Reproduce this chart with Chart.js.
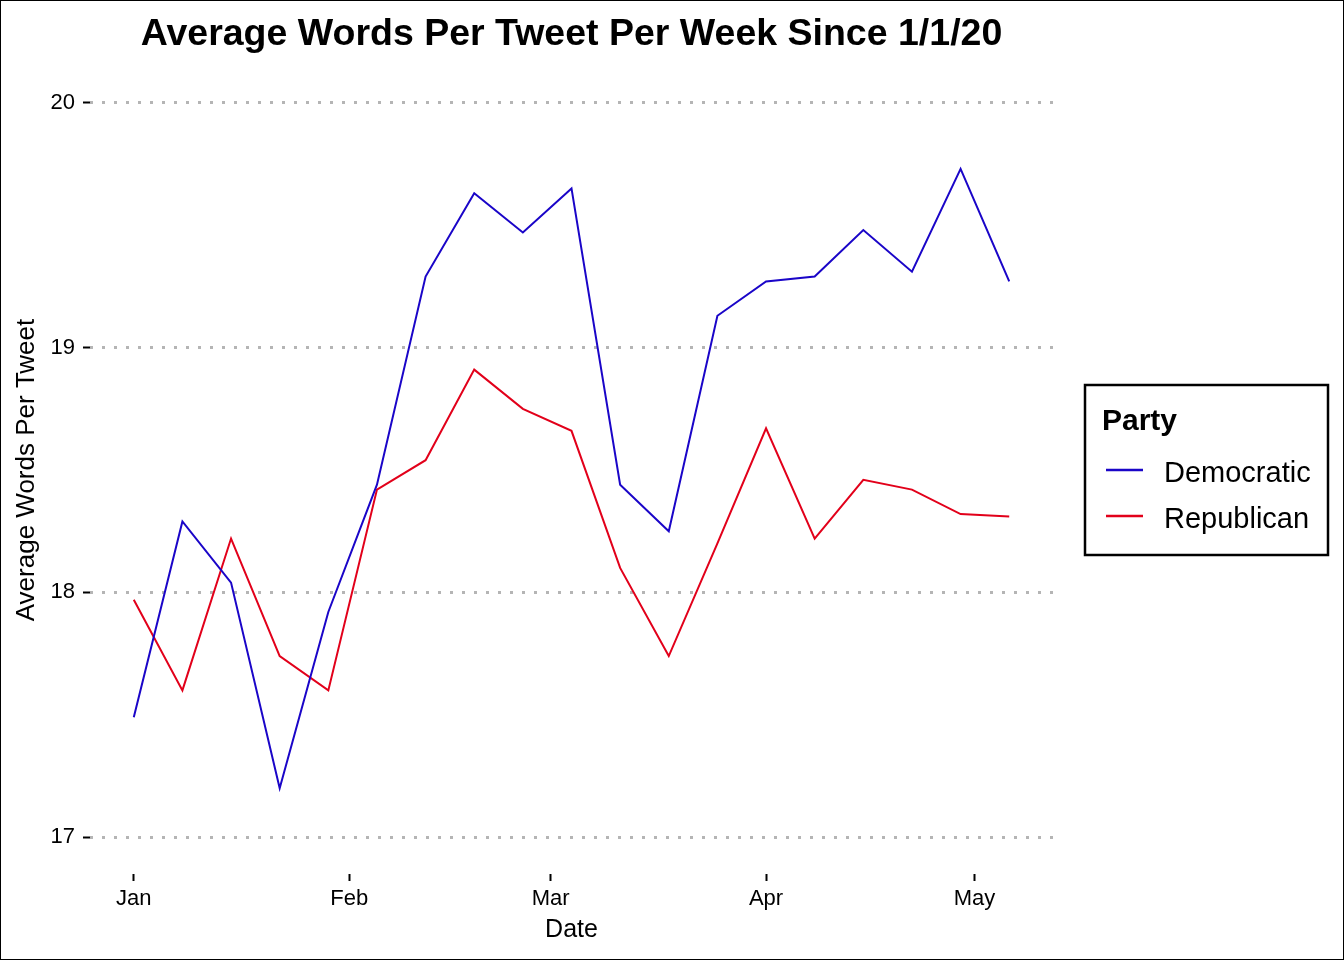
<!DOCTYPE html>
<html>
<head>
<meta charset="utf-8">
<script src="https://cdn.jsdelivr.net/npm/chart.js@4"></script>
<style>
  body { margin: 0; background: #fff; }
  canvas { display: block; }
</style>
</head>
<body>
<canvas id="chart" width="1344" height="960"></canvas>
<script>
// weekly averages since 1/1/20
const weeks = ['2020-01-01', '2020-01-08', '2020-01-15', '2020-01-22', '2020-01-29',
  '2020-02-05', '2020-02-12', '2020-02-19', '2020-02-26', '2020-03-04', '2020-03-11',
  '2020-03-18', '2020-03-25', '2020-04-01', '2020-04-08', '2020-04-15', '2020-04-22',
  '2020-04-29', '2020-05-06'];
const democratic = [17.49, 18.29, 18.04, 17.20, 17.92, 18.44, 19.29, 19.63, 19.47, 19.65,
  18.44, 18.25, 19.13, 19.27, 19.29, 19.48, 19.31, 19.73, 19.27];
const republican = [17.97, 17.60, 18.22, 17.74, 17.60, 18.42, 18.54, 18.91, 18.75, 18.66,
  18.10, 17.74, 18.20, 18.67, 18.22, 18.46, 18.42, 18.32, 18.31];
const monthTicks = ['2020-01-01', '2020-02-01', '2020-03-01', '2020-04-01', '2020-05-01'];
const monthLabels = ['Jan', 'Feb', 'Mar', 'Apr', 'May'];
const yTicks = [17, 18, 19, 20];

const dayOf = s => (Date.parse(s) - Date.parse('2020-01-01')) / 86400000;
const points = vals => weeks.map((w, i) => ({ x: dayOf(w), y: vals[i] }));

Chart.defaults.font.family = '"Liberation Sans", Arial, sans-serif';
Chart.defaults.color = '#000';

// ggplot style legend box on the right
const legendBox = {
  id: 'legendBox',
  afterDraw(chart) {
    const c = chart.ctx;
    const area = chart.chartArea;
    const left = area.right + 32;
    const w = 243, h = 170;
    const top = (area.top + area.bottom) / 2 - h / 2;
    c.save();
    c.strokeStyle = '#000';
    c.lineWidth = 2.5;
    c.strokeRect(left, top, w, h);
    c.fillStyle = '#000';
    c.textBaseline = 'alphabetic';
    c.font = 'bold 30px "Liberation Sans", Arial, sans-serif';
    c.fillText('Party', left + 17, top + 45);
    c.font = '29px "Liberation Sans", Arial, sans-serif';
    chart.data.datasets.forEach((ds, i) => {
      const y = top + 85 + i * 46;
      c.strokeStyle = ds.borderColor;
      c.lineWidth = 2.5;
      c.beginPath();
      c.moveTo(left + 21, y);
      c.lineTo(left + 58, y);
      c.stroke();
      c.fillText(ds.label, left + 79, y + 12);
    });
    c.restore();
  }
};

const frame = {
  id: 'frame',
  beforeDraw(chart) {
    const c = chart.ctx;
    c.save();
    c.fillStyle = '#fff';
    c.fillRect(0, 0, chart.width, chart.height);
    c.restore();
  },
  afterDraw(chart) {
    const c = chart.ctx;
    c.save();
    c.strokeStyle = '#000';
    c.lineWidth = 1;
    c.strokeRect(0.5, 0.5, chart.width - 1, chart.height - 1);
    c.restore();
  }
};

let ctx = document.getElementById('chart').getContext('2d');
let myChart = new Chart(ctx, {
  type: 'line',
  data: {
    datasets: [{
      label: 'Democratic',
      data: points(democratic),
      borderColor: '#1a05c8',
      borderWidth: 2,
      pointRadius: 0,
      tension: 0,
      fill: false
    }, {
      label: 'Republican',
      data: points(republican),
      borderColor: '#e2001a',
      borderWidth: 2,
      pointRadius: 0,
      tension: 0,
      fill: false
    }]
  },
  options: {
    responsive: false,
    animation: false,
    layout: { padding: { right: 291 } },
    plugins: {
      legend: { display: false },
      tooltip: { enabled: false },
      title: {
        display: true,
        text: 'Average Words Per Tweet Per Week Since 1/1/20',
        fullSize: false,
        color: '#000',
        font: { size: 37.5, weight: 'bold' },
        padding: { top: 12, bottom: 9 }
      }
    },
    scales: {
      x: {
        type: 'linear',
        min: -6.3,
        max: 132.3,
        afterFit: s => { s.height = 86; },
        afterBuildTicks: s => { s.ticks = monthTicks.map(m => ({ value: dayOf(m) })); },
        ticks: {
          callback: (v, i) => monthLabels[i],
          font: { size: 22 },
          color: '#000',
          padding: 5,
          maxRotation: 0,
          autoSkip: false
        },
        grid: { drawOnChartArea: false, drawTicks: true, tickLength: 7, tickColor: '#000', tickWidth: 2 },
        border: { display: false },
        title: { display: true, text: 'Date', color: '#000', font: { size: 25 }, padding: { top: 0, bottom: 15 } }
      },
      y: {
        min: 16.85,
        max: 20.15,
        afterFit: s => { s.width = 90; },
        afterBuildTicks: s => { s.ticks = yTicks.map(v => ({ value: v })); },
        ticks: { font: { size: 22 }, color: '#000', padding: 8 },
        grid: { color: '#b5b5b5', lineWidth: 3, tickColor: '#000', tickLength: 7, tickWidth: 2, tickBorderDash: [] },
        border: { display: false, dash: [3, 9] },
        title: { display: true, text: 'Average Words Per Tweet', color: '#000', font: { size: 26 }, padding: { top: 11, bottom: 0 } }
      }
    }
  },
  plugins: [legendBox, frame]
});
</script>
</body>
</html>
